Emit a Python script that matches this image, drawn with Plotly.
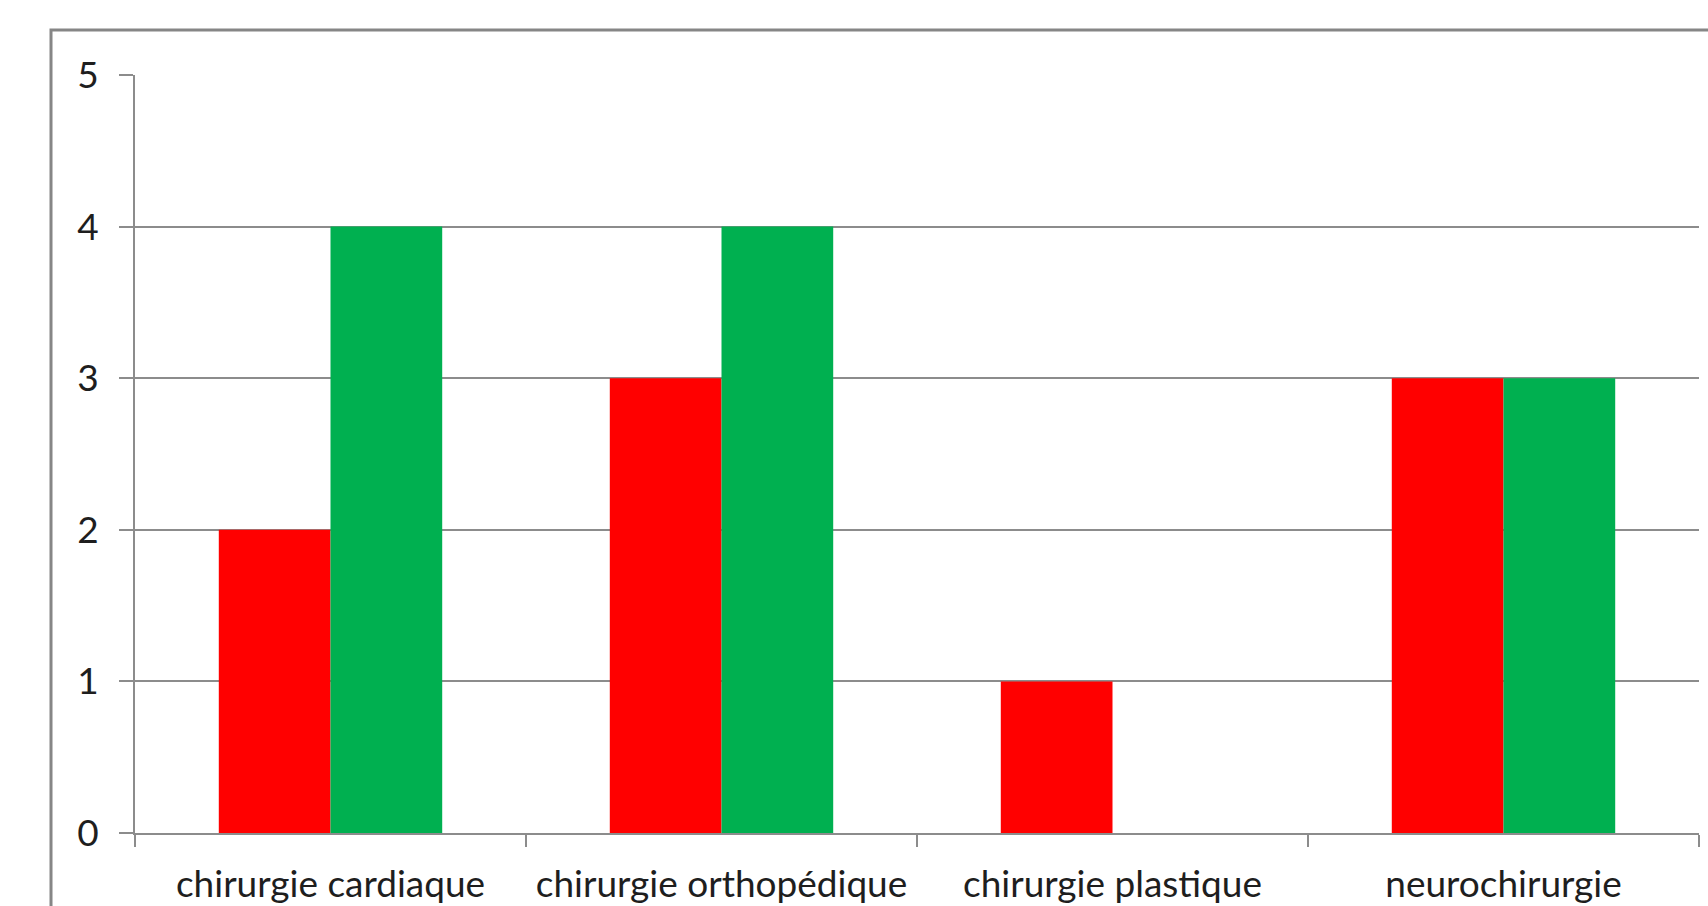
import plotly.graph_objects as go

# Surgical specialties and counts for the two series
categories = ["chirurgie cardiaque", "chirurgie orthopédique", "chirurgie plastique", "neurochirurgie"]
red_values = [2, 3, 1, 3]
green_values = [4, 4, 0, 3]
y_ticks = [0, 1, 2, 3, 4, 5]

W, H = 1708, 906
L, R, T, B = 135, 9, 75, 73
plot_w = W - L - R
plot_h = H - T - B

def px_x(px):
    return (px - L) / plot_w

def px_y(py):
    return (H - B - py) / plot_h

AXIS_GREY = "#8c8c8c"
FONT = dict(family="Lato, 'Open Sans', sans-serif", size=37, color="#1e1e1e")

fig = go.Figure()
fig.add_trace(go.Bar(x=categories, y=red_values, marker=dict(color="#FF0000", line=dict(width=0)), name="A"))
fig.add_trace(go.Bar(x=categories, y=green_values, marker=dict(color="#00B050", line=dict(width=0)), name="B"))

fig.update_layout(
    width=W, height=H,
    margin=dict(l=L, r=R, t=T, b=B, pad=0, autoexpand=False),
    paper_bgcolor="white", plot_bgcolor="white",
    barmode="group", bargap=0.4286, bargroupgap=0,
    showlegend=False,
    font=FONT,
    xaxis=dict(
        type="category", tickson="boundaries", automargin=False,
        ticks="outside", ticklen=12, tickwidth=2, tickcolor=AXIS_GREY,
        showline=True, linecolor=AXIS_GREY, linewidth=2,
        showgrid=False, tickfont=FONT, ticklabelstandoff=18,
    ),
    yaxis=dict(
        range=[0, 5], tickvals=y_ticks, ticktext=[str(v) for v in y_ticks],
        automargin=False,
        ticks="outside", ticklen=14, tickwidth=2, tickcolor=AXIS_GREY,
        showline=True, linecolor=AXIS_GREY, linewidth=2,
        showgrid=True, gridcolor=AXIS_GREY, gridwidth=2,
        zeroline=False, tickfont=FONT, ticklabelstandoff=13,
    ),
)

# Chart-area frame
fig.add_shape(
    type="rect", xref="paper", yref="paper",
    x0=px_x(51), x1=px_x(1730), y0=px_y(930), y1=px_y(30),
    line=dict(color="#868686", width=3), fillcolor="rgba(0,0,0,0)", layer="below",
)

fig.write_html("out.html")
